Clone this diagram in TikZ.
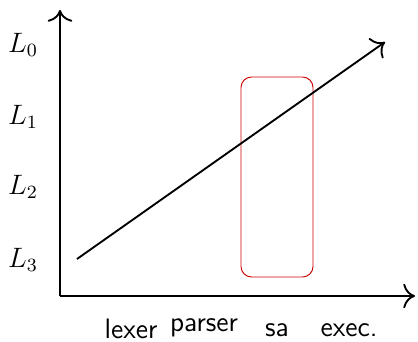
\documentclass[tikz,border=0pt]{standalone}
\usetikzlibrary{arrows.meta}
\begin{document}
\begin{tikzpicture}[x=0.4275pt,y=-0.4275pt,
  axis/.style={thick,-{To[scale=1.5]}},
  lbl/.style={inner sep=0pt,font=\large},
  stage/.style={inner sep=0pt,font=\large\sffamily},
  boxr/.style={draw=red!80!black,rounded corners=4.5pt,line width=0.4pt}]
\useasboundingbox (0,0) rectangle (418,342);
\coordinate (O) at (60,296);
\coordinate (Y) at (60,10);
\coordinate (X) at (415,296);
\draw[axis] (O) -- (Y);
\draw[axis] (O) -- (X);
\node[lbl] (l0) at (23,45) {$L_0$};
\node[lbl] (l1) at (23,117) {$L_1$};
\node[lbl] (l2) at (23,187) {$L_2$};
\node[lbl] (l3) at (23,260) {$L_3$};
\node[stage] (lexer) at (131,329) {lexer};
\node[stage] (parser) at (204,328) {parser};
\node[stage] (sa) at (277,330) {sa};
\node[stage] (exec) at (349,330) {exec.};
\node[boxr,minimum width=72*0.4275pt,minimum height=200*0.4275pt,inner sep=0pt] (box) at (277,177) {};
\coordinate (s) at (77,259);
\coordinate (e) at (385,42);
\draw[axis] (s) -- (e);
\end{tikzpicture}
\end{document}
